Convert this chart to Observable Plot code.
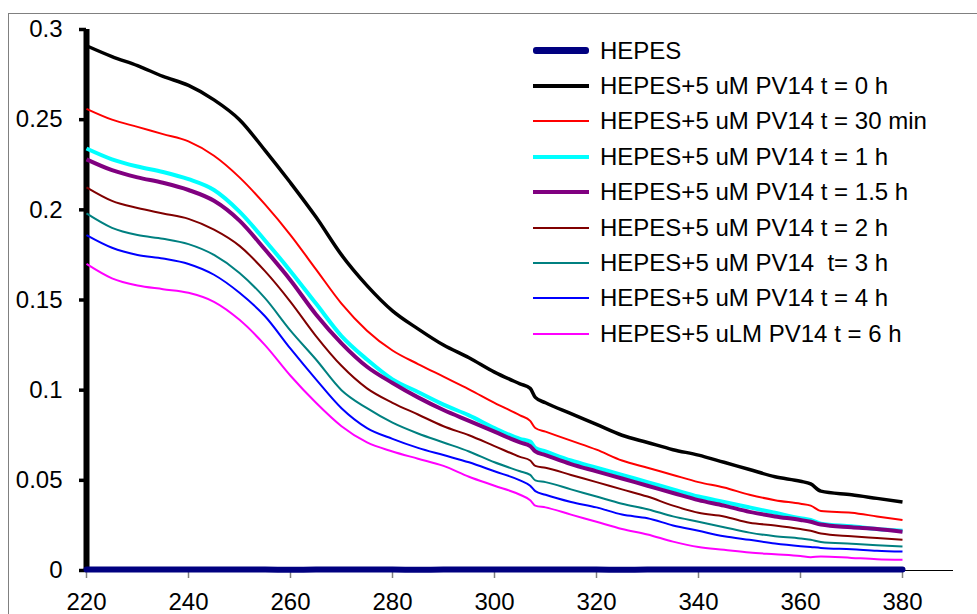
<!DOCTYPE html>
<html>
<head>
<meta charset="utf-8">
<script src="https://cdn.jsdelivr.net/npm/d3@7"></script>
<script src="https://cdn.jsdelivr.net/npm/@observablehq/plot@0.6"></script>
<style>
  html, body { margin: 0; padding: 0; background: #fff; overflow: hidden; }
  #wrap { position: relative; width: 977px; height: 614px; overflow: hidden; font-family: "Liberation Sans", Arial, sans-serif; }
  #frame { position: absolute; left: 8px; top: 13px; width: 1000px; height: 700px; border: 1px solid #808080; box-sizing: border-box; }
  #chart { position: absolute; left: 0; top: 0; }
  #legend { position: absolute; left: 533px; top: 33px; }
  .row { display: flex; align-items: center; height: 35.4px; }
  .swatch { width: 56px; margin-right: 11px; border-radius: 3px; }
  .lab { font-size: 24px; color: #000; white-space: pre; line-height: 1; }
</style>
</head>
<body>
<div id="wrap">
  <div id="frame"></div>
  <div id="chart"></div>
  <div id="legend"></div>
</div>
<script>
// wavelengths (nm)
const wavelengths = [220,225,230,235,240,245,250,255,260,265,270,275,280,285,290,295,300,305,307,308,310,315,320,325,330,335,340,345,350,355,360,362,364,370,375,380];

const hepes   = [0.0005,0.0005,0.0006,0.0005,0.0005,0.0006,0.0005,0.0005,0.0004,0.0005,0.0005,0.0005,0.0005,0.0004,0.0005,0.0005,0.0005,0.0005,0.0005,0.0005,0.0005,0.0005,0.0005,0.0004,0.0005,0.0005,0.0005,0.0005,0.0005,0.0006,0.0005,0.0005,0.0005,0.0005,0.0005,0.0005];
const t0h     = [0.291,0.285,0.280,0.274,0.269,0.261,0.250,0.233,0.215,0.196,0.175,0.158,0.144,0.134,0.125,0.118,0.110,0.1035,0.101,0.096,0.093,0.087,0.081,0.075,0.071,0.067,0.064,0.060,0.056,0.052,0.0495,0.048,0.044,0.042,0.040,0.038];
const t30min  = [0.256,0.250,0.246,0.242,0.238,0.230,0.218,0.203,0.186,0.167,0.148,0.133,0.122,0.1145,0.1075,0.1005,0.093,0.086,0.083,0.079,0.077,0.072,0.067,0.061,0.057,0.053,0.049,0.046,0.042,0.039,0.037,0.036,0.033,0.032,0.030,0.028];
const t1h     = [0.234,0.228,0.224,0.221,0.217,0.211,0.199,0.183,0.166,0.148,0.130,0.117,0.106,0.099,0.092,0.086,0.079,0.073,0.0715,0.068,0.066,0.061,0.057,0.053,0.049,0.045,0.041,0.038,0.035,0.032,0.029,0.028,0.026,0.0245,0.023,0.022];
const t15h    = [0.228,0.222,0.218,0.215,0.211,0.205,0.194,0.178,0.161,0.142,0.126,0.113,0.104,0.096,0.089,0.083,0.077,0.071,0.069,0.066,0.064,0.059,0.055,0.051,0.047,0.043,0.039,0.036,0.0325,0.030,0.028,0.027,0.0255,0.024,0.023,0.0215];
const t2h     = [0.2125,0.205,0.201,0.198,0.195,0.189,0.180,0.166,0.149,0.130,0.1135,0.101,0.093,0.0865,0.080,0.075,0.069,0.063,0.061,0.058,0.057,0.053,0.049,0.045,0.041,0.036,0.032,0.030,0.0265,0.025,0.023,0.022,0.0205,0.019,0.018,0.017];
const t3h     = [0.198,0.190,0.186,0.184,0.181,0.175,0.165,0.151,0.133,0.117,0.100,0.090,0.082,0.076,0.071,0.066,0.060,0.055,0.053,0.050,0.049,0.045,0.041,0.037,0.034,0.030,0.027,0.024,0.021,0.019,0.0178,0.017,0.0158,0.0148,0.014,0.0133];
const t4h     = [0.186,0.179,0.175,0.173,0.170,0.164,0.154,0.141,0.123,0.106,0.090,0.079,0.073,0.068,0.064,0.060,0.055,0.050,0.047,0.044,0.042,0.038,0.035,0.031,0.029,0.025,0.022,0.019,0.017,0.015,0.0135,0.013,0.0125,0.0118,0.011,0.0105];
const t6h     = [0.170,0.162,0.158,0.156,0.154,0.149,0.139,0.125,0.108,0.093,0.080,0.071,0.066,0.062,0.058,0.052,0.047,0.042,0.039,0.036,0.035,0.031,0.027,0.023,0.020,0.016,0.013,0.0115,0.010,0.009,0.008,0.0074,0.0078,0.007,0.0063,0.006];

const seriesNames = [
  "HEPES",
  "HEPES+5 uM PV14 t = 0 h",
  "HEPES+5 uM PV14 t = 30 min",
  "HEPES+5 uM PV14 t = 1 h",
  "HEPES+5 uM PV14 t = 1.5 h",
  "HEPES+5 uM PV14 t = 2 h",
  "HEPES+5 uM PV14  t= 3 h",
  "HEPES+5 uM PV14 t = 4 h",
  "HEPES+5 uLM PV14 t = 6 h"
];
const seriesValues = [hepes, t0h, t30min, t1h, t15h, t2h, t3h, t4h, t6h];
const seriesColors = ["#000080","#000000","#ff0000","#00ffff","#800080","#800000","#008080","#0000ff","#ff00ff"];
const seriesWidths = [6, 3.5, 2, 4, 4, 2, 2, 2, 2];
const legendWidths = [7, 4, 2, 4, 4, 2, 2, 2, 2];

const xTicks = [220,240,260,280,300,320,340,360,380];
const xTickLabels = ["220","240","260","280","300","320","340","360","380"];
const yTicks = [0,0.05,0.1,0.15,0.2,0.25,0.3];
const yTickLabels = ["0","0.05","0.1","0.15","0.2","0.25","0.3"];

const rows = [];
seriesValues.forEach((vals, s) => vals.forEach((v, i) => rows.push({s, x: wavelengths[i], y: v})));

const lineMarks = seriesValues.map((_, s) =>
  Plot.line(rows.filter(r => r.s === s), {
    x: "x", y: "y", stroke: seriesColors[s], strokeWidth: seriesWidths[s],
    curve: "monotone-x", strokeLinejoin: "round", strokeLinecap: s === 0 ? "round" : "butt"
  })
);

const chart = Plot.plot({
  width: 977,
  height: 614,
  marginLeft: 86,
  marginRight: 24,
  marginTop: 29,
  marginBottom: 44,
  x: {domain: [220, 390]},
  y: {domain: [0, 0.3]},
  style: {fontFamily: "'Liberation Sans', Arial, sans-serif", fontSize: "24px", color: "#000", background: "transparent", overflow: "visible"},
  marks: [
    Plot.ruleY([0], {stroke: "#000", strokeWidth: 1}),
    Plot.axisX({ticks: xTicks, tickSize: 8, tickPadding: 14, stroke: "#808080", strokeWidth: 1.5,
      tickFormat: d => xTickLabels[xTicks.indexOf(d)], label: null, fill: "#000"}),
    Plot.axisY({ticks: yTicks, tickSize: 7, tickPadding: 17, strokeWidth: 3.5,
      tickFormat: d => yTickLabels[yTicks.indexOf(d)], label: null}),
    Plot.ruleX([220], {stroke: "#000", strokeWidth: 6}),
    ...lineMarks
  ]
});
document.getElementById("chart").appendChild(chart);

const legend = document.getElementById("legend");
seriesNames.forEach((name, s) => {
  const row = document.createElement("div");
  row.className = "row";
  const sw = document.createElement("div");
  sw.className = "swatch";
  sw.style.height = legendWidths[s] + "px";
  sw.style.background = seriesColors[s];
  if (s !== 0) sw.style.borderRadius = "0";
  const lab = document.createElement("span");
  lab.className = "lab";
  lab.textContent = name;
  row.appendChild(sw);
  row.appendChild(lab);
  legend.appendChild(row);
});
</script>
</body>
</html>
